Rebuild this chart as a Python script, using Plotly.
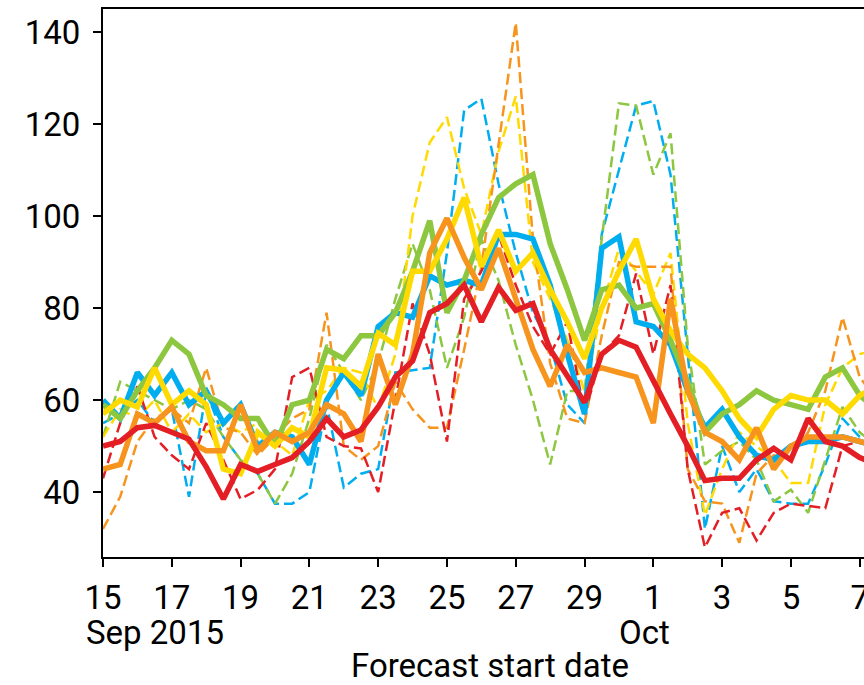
import plotly.graph_objects as go
import pandas as pd

# Forecast start dates: every 12 hours from 15 Sep 2015
dates = pd.date_range("2015-09-15 00:00", periods=46, freq="12h")

blue_solid = [60, 56, 66, 61, 66, 59, 62, 55, 59, 50, 53, 52, 46, 60, 66, 61, 76, 79, 78, 87,
              85, 86, 85, 96, 96, 95, 85, 70, 57, 93, 95.5, 77, 76, 72, 62, 54, 58, 52, 48, 47,
              50, 51, 51, 52, 51, 50]
green_solid = [59, 56, 62, 67, 73, 70, 61, 59, 56, 56, 50, 59, 60, 71, 69, 74, 74, 79, 88, 99,
               79, 86, 96, 104, 107, 109, 94, 84, 73, 84, 85, 80, 81, 73, 64, 53, 57, 59, 62, 60,
               59, 58, 65, 67, 61, 58]
yellow_solid = [57, 60, 58.5, 67, 59, 62, 59, 45, 44, 53, 50, 54, 52, 67, 66.5, 63, 74.5, 72, 88, 88,
                95, 104, 89, 97, 88, 92, 84, 77, 69, 80, 88, 95, 82, 75, 70, 67, 62, 56, 52, 58,
                61, 60, 60, 57, 61, 63]
orange_solid = [45, 46, 57, 55, 58.5, 51, 49, 49, 59, 49, 53, 51, 53, 59, 57, 51, 70, 59, 70, 92,
                99.5, 91, 84, 93, 82, 71, 63, 72, 66, 67, 66, 65, 55, 82, 62, 53, 51, 47, 54, 45,
                50, 52, 52, 52, 51, 50]
red_solid = [50, 51, 54, 54.5, 53, 51.5, 45.5, 38.5, 46, 44.5, 46, 47.5, 51, 56, 52, 53.5, 58.5, 65, 68.5, 79,
             81, 85, 77, 84.5, 79.5, 81, 71, 65, 59.5, 70, 73, 71.5, 64, 57, 50, 42.5, 43, 43, 47, 49.5,
             47, 56, 51, 50, 47.5, 46]

blue_dash = [55, 57, 60, 55, 58, 39, 62, 52, 47, 44, 37.5, 37.5, 40, 59, 41, 44, 45, 66, 66.5, 67,
             92, 123, 125.5, 107, 92, 79, 72, 59, 55, 96, 110, 124, 125, 109, 70, 32, 50, 40, 45, 38,
             37.5, 37.5, 46, 56, 52, 50]
green_dash = [52, 64, 62, 60, 58, 60, 58, 52, 47, 44, 37.5, 44, 56, 72, 66, 60, 68, 82, 94, 84,
              67, 78, 95, 86, 72, 60, 46, 62, 62, 95, 124.5, 124, 109, 118, 72, 46, 49, 51, 47, 38,
              40.5, 35.5, 47, 58.5, 53, 50]
yellow_dash = [52, 58, 56, 60, 53, 57, 53, 55, 53, 55, 51, 48, 60, 62, 67, 66, 58, 70, 100, 116,
               121.5, 106, 96, 114, 126, 90, 82, 73, 62, 80, 93, 88, 83, 92, 55, 35, 45, 53, 50, 47,
               42, 42, 59, 67, 70, 71]
orange_dash = [32, 39, 51, 56, 58, 55, 67, 54, 53, 48, 52, 56, 58, 79, 50, 47, 50, 64, 58, 54,
               54, 71, 89, 115, 142, 95, 68, 56, 55, 74, 90, 89, 89, 89, 45, 38, 37.5, 29, 44, 48,
               47.5, 53, 62, 78, 65, 60]
red_dash = [43, 55, 63, 52, 48, 45, 55, 47, 38.5, 40.5, 45, 65, 67, 52, 50, 49.5, 40, 60, 81, 70,
            51, 82, 88, 96, 85, 76, 70, 77, 57, 70, 74, 87.5, 70, 85, 45, 28, 35.5, 36.5, 29.5, 35.5,
            37.5, 37, 36.5, 50, 51, 50]

tick_dates = pd.date_range("2015-09-15", "2015-10-07", freq="2D")
tick_labels = ["15", "17", "19", "21", "23", "25", "27", "29", "1", "3", "5", "7"]
y_ticks = [40, 60, 80, 100, 120, 140]

BLUE, GREEN, YELLOW, ORANGE, RED = "#00AEEF", "#8DC63F", "#FFDA00", "#F7941D", "#E31E24"

fig = go.Figure()
dashed = [(blue_dash, BLUE), (green_dash, GREEN), (yellow_dash, YELLOW), (orange_dash, ORANGE), (red_dash, RED)]
solid = [(blue_solid, BLUE), (green_solid, GREEN), (yellow_solid, YELLOW), (orange_solid, ORANGE), (red_solid, RED)]
for vals, col in dashed:
    fig.add_trace(go.Scatter(x=dates, y=vals, mode="lines",
                             line=dict(color=col, width=2.5, dash="11px,5px"),
                             showlegend=False, hoverinfo="skip"))
for vals, col in solid:
    fig.add_trace(go.Scatter(x=dates, y=vals, mode="lines",
                             line=dict(color=col, width=5.5),
                             showlegend=False, hoverinfo="skip"))

FONT = "Roboto"
FS = 33
W, H = 864, 685
L, R, T, B = 103, 0, 9, 128
pw, ph = W - L - R, H - T - B

def px(xp):
    return (xp - L) / pw

def py(yp):
    return (H - B - yp) / ph

fig.update_layout(
    width=W, height=H,
    margin=dict(l=L, r=R, t=T, b=B, autoexpand=False),
    paper_bgcolor="white", plot_bgcolor="white",
    font=dict(family=FONT, size=FS, color="black"),
    xaxis=dict(
        type="date",
        range=["2015-09-15 00:00", "2015-10-07 03:00"],
        tickmode="array", tickvals=tick_dates, ticktext=tick_labels,
        ticks="outside", ticklen=8, tickwidth=2, tickcolor="black",
        showline=True, linewidth=2, linecolor="black", mirror=True,
        showgrid=False, zeroline=False,
        tickfont=dict(family=FONT, size=FS, color="black"),
        ticklabelstandoff=2,
        ticklabeloverflow="allow",
        automargin=False,
    ),
    yaxis=dict(
        range=[25.9, 145],
        tickmode="array", tickvals=y_ticks,
        ticks="outside", ticklen=8, tickwidth=2, tickcolor="black",
        showline=True, linewidth=2, linecolor="black",
        showgrid=False, zeroline=False,
        tickfont=dict(family=FONT, size=FS, color="black"),
        ticklabelstandoff=6,
        automargin=False,
    ),
    annotations=[
        dict(text="Sep 2015", xref="paper", yref="paper", x=px(84), y=py(632),
             xanchor="left", yanchor="middle", showarrow=False,
             font=dict(family=FONT, size=FS, color="black")),
        dict(text="Oct", xref="paper", yref="paper", x=px(644), y=py(632),
             xanchor="center", yanchor="middle", showarrow=False,
             font=dict(family=FONT, size=FS, color="black")),
        dict(text="Forecast start date", xref="paper", yref="paper", x=px(490), y=py(665),
             xanchor="center", yanchor="middle", showarrow=False,
             font=dict(family=FONT, size=FS, color="black")),
    ],
)

fig.write_html("out.html")
